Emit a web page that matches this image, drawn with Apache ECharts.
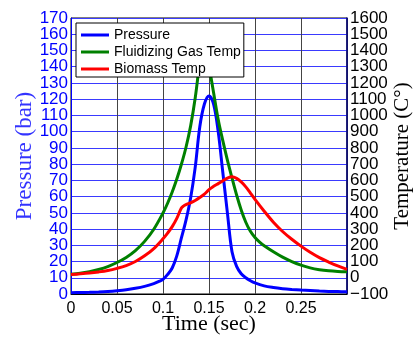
<!DOCTYPE html>
<html>
<head>
<meta charset="utf-8">
<script src="https://cdn.jsdelivr.net/npm/echarts@6/dist/echarts.min.js"></script>
<style>html,body{margin:0;padding:0;background:#fff;}#c{width:414px;height:340px;}</style>
</head>
<body>
<div id="c"></div>
<script>
var pTime = [0,0.01,0.02,0.03,0.04,0.05,0.06,0.07,0.08,0.09,0.095,0.1,0.105,0.11,0.115,0.12,0.125,0.13,0.135,0.14,0.145,0.15,0.155,0.16,0.165,0.17,0.175,0.18,0.185,0.19,0.195,0.2,0.21,0.22,0.23,0.24,0.25,0.26,0.27,0.28,0.29,0.3];
var pressure = [0.8,0.9,1.05,1.25,1.55,2.0,2.6,3.5,4.7,6.4,7.6,9.0,12,16,23.5,34.5,45.5,59,78,103,117,122,117,100,75,50,26,17,12.5,10,8.2,6.8,5,4,3.3,2.8,2.4,2.1,1.8,1.6,1.5,1.4];

var gTime = [0,0.01,0.02,0.03,0.04,0.05,0.06,0.07,0.08,0.09,0.1,0.105,0.11,0.115,0.12,0.125,0.13,0.135,0.14,0.145,0.15,0.155,0.16,0.165,0.17,0.175,0.18,0.185,0.19,0.195,0.2,0.205,0.21,0.22,0.23,0.24,0.25,0.26,0.27,0.28,0.29,0.3];
var gasTemp = [21,28,38,51,69,94,125,167,224,299,399,459,528,608,699,804,934,1107,1326,1480,1310,1140,975,845,725,615,510,418,342,286,248,220,197,160,127,100,78,61,50,43,39,37];

var bTime = [0,0.01,0.02,0.03,0.04,0.05,0.06,0.07,0.08,0.09,0.1,0.105,0.11,0.115,0.12,0.1225,0.125,0.13,0.135,0.14,0.145,0.15,0.155,0.16,0.165,0.17,0.175,0.18,0.185,0.19,0.195,0.2,0.21,0.22,0.23,0.24,0.25,0.26,0.27,0.28,0.29,0.3];
var biomassTemp = [20,24,29,36,45,58,75,100,135,180,240,275,315,366,430,443,451,462,476,494,515,543,563,580,597,614,622,612,590,560,522,483,410,342,285,237,195,157,124,97,73,52];

var pressureTickLabels = ['0','10','20','30','40','50','60','70','80','90','100','110','120','130','140','150','160','170'];
var tempTickLabels = ['\u2212100','0','100','200','300','400','500','600','700','800','900','1000','1100','1200','1300','1400','1500','1600'];

function pairs(t, v){ return t.map(function(x,i){ return [x, v[i]]; }); }

var labelFont = {fontFamily:'Liberation Sans', fontSize:17};
function labelAxis(pos, labels, color){
  return {
    type:'category', position:pos, data:labels, boundaryGap:false,
    axisLine:{show:false}, axisTick:{show:false}, splitLine:{show:false}, splitArea:{show:false},
    axisLabel:{show:true, interval:0, margin:3, hideOverlap:false, fontFamily:labelFont.fontFamily, fontSize:labelFont.fontSize, color:color},
    z:5
  };
}

var chart = echarts.init(document.getElementById('c'), null, {renderer:'canvas'});
chart.setOption({
  animation: false,
  backgroundColor: '#fff',
  grid: {left:71, right:67, top:18, bottom:46, show:true, borderColor:'#000', borderWidth:1, containLabel:false, outerBoundsMode:'none'},
  legend: {
    orient:'vertical', left:76, top:23, backgroundColor:'#fff', borderColor:'#000', borderWidth:1,
    padding:[5,3,1,5], itemGap:3, itemWidth:28, itemHeight:3, icon:'rect', itemStyle:{borderWidth:0},
    textStyle:{fontFamily:'Liberation Sans', fontSize:14, color:'#000'},
    data:['Pressure','Fluidizing Gas Temp','Biomass Temp']
  },
  xAxis: {
    type:'value', min:0, max:0.3, interval:0.05,
    name:'Time (sec)', nameLocation:'middle', nameGap:19, nameMoveOverlap:false,
    nameTextStyle:{fontFamily:'Liberation Serif', fontSize:22, color:'#000'},
    axisLine:{show:true, lineStyle:{color:'#000', width:1}},
    axisTick:{show:false},
    axisLabel:{margin:7, fontFamily:'Liberation Sans', fontSize:16, color:'#000', hideOverlap:false,
      formatter:function(v){ if (v>0.29) return ''; var r=Math.round(v*100)/100; return r===0?'0':String(r); }},
    splitLine:{show:true, lineStyle:{color:'#444', width:1}}
  },
  yAxis: [{
    type:'value', position:'left', min:0, max:170, interval:10,
    name:'Pressure (bar)', nameLocation:'middle', nameGap:35, nameMoveOverlap:false,
    nameTextStyle:{fontFamily:'Liberation Serif', fontSize:23, color:'#3333ff'},
    axisLine:{show:true, lineStyle:{color:'#0000ff', width:1}},
    axisTick:{show:false},
    axisLabel:{show:false},
    splitLine:{show:true, lineStyle:{color:'#3a3aff', width:1}}
  },{
    type:'value', position:'right', min:-100, max:1600, interval:100,
    name:'Temperature (C°)', nameLocation:'middle', nameGap:45, nameMoveOverlap:false,
    nameTextStyle:{fontFamily:'Liberation Serif', fontSize:21, color:'#000'},
    axisLine:{show:true, lineStyle:{color:'#00007a', width:1.5}},
    axisTick:{show:false},
    axisLabel:{show:false},
    splitLine:{show:false}
  },
  labelAxis('left', pressureTickLabels, '#0000ff'),
  labelAxis('right', tempTickLabels, '#000')
  ],
  series: [
    {name:'Pressure', type:'line', yAxisIndex:0, data:pairs(pTime,pressure), showSymbol:false, symbol:'none', smooth:0.35, lineStyle:{color:'#0000ff', width:3}, itemStyle:{color:'#0000ff'}, z:2},
    {name:'Fluidizing Gas Temp', type:'line', yAxisIndex:1, data:pairs(gTime,gasTemp), showSymbol:false, symbol:'none', smooth:0.35, lineStyle:{color:'#008000', width:3}, itemStyle:{color:'#008000'}, z:3},
    {name:'Biomass Temp', type:'line', yAxisIndex:1, data:pairs(bTime,biomassTemp), showSymbol:false, symbol:'none', smooth:0.35, lineStyle:{color:'#ff0000', width:3}, itemStyle:{color:'#ff0000'}, z:4}
  ]
});
</script>
</body>
</html>
